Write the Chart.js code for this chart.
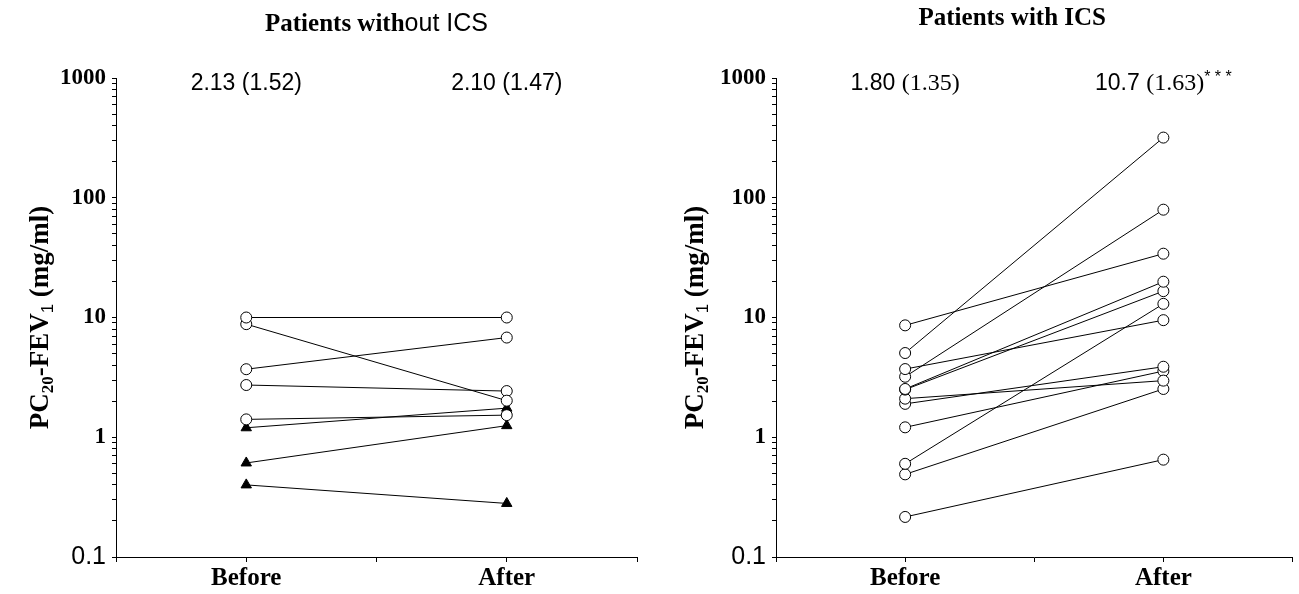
<!DOCTYPE html>
<html>
<head>
<meta charset="utf-8">
<script src="https://cdn.jsdelivr.net/npm/chart.js@4.4.1/dist/chart.umd.min.js"></script>
<style>
  body { margin: 0; background: #fff; }
  #wrap { position: relative; width: 1299px; height: 594px; }
  .painel { position: absolute; top: 0; height: 594px; }
</style>
</head>
<body>
<div id="wrap">
  <div class="painel" style="left:0;width:650px"><canvas id="semICS"></canvas></div>
  <div class="painel" style="left:650px;width:649px"><canvas id="comICS"></canvas></div>
</div>
<script>
// Categorias e posições no eixo x (0..4, como no original)
const categorias = ['Before', 'After'];
const posicoesCategorias = [1, 3];
const yTickLabels = ['0.1', '1', '10', '100', '1000'];

// Pacientes sem ICS (PC20 antes / depois)
const semIcsAntes = [10.0, 8.8, 3.7, 2.73, 1.41, 1.20, 0.61, 0.40];
const semIcsDepois = [10.0, 2.02, 6.8, 2.43, 1.53, 1.75, 1.25, 0.28];
const semIcsMarcador = ['circle', 'circle', 'circle', 'circle', 'circle', 'triangle', 'triangle', 'triangle'];

// Pacientes com ICS
const comIcsAntes = [8.6, 5.05, 3.71, 3.2, 2.53, 2.5, 2.10, 1.90, 1.21, 0.60, 0.49, 0.216];
const comIcsDepois = [34.1, 318, 9.5, 79.5, 19.9, 16.6, 2.97, 3.88, 3.57, 13.0, 2.53, 0.65];

const SERIF = '"Liberation Serif", "Times New Roman", serif';
const SANS = '"Liberation Sans", Arial, sans-serif';

// Escreve um texto feito de partes com fontes diferentes, centrado em cx
function escreverPartes(ctx, partes, cx, y) {
    let total = 0;
    partes.forEach(p => { ctx.font = p.font; total += ctx.measureText(p.t).width; });
    let x = cx - total / 2;
    ctx.textAlign = 'left';
    partes.forEach(p => {
        ctx.font = p.font;
        ctx.fillText(p.t, x, y + (p.dy || 0));
        x += ctx.measureText(p.t).width;
    });
}

const eixoTitulo = [
    { t: 'PC', font: 'bold 27px ' + SERIF },
    { t: '20', font: 'bold 17px ' + SERIF, dy: 5 },
    { t: '-FEV', font: 'bold 27px ' + SERIF },
    { t: '1', font: '17px ' + SANS, dy: 5 },
    { t: ' (mg/ml)', font: 'bold 27px ' + SERIF }
];

const textoPainel = {
    id: 'textoPainel',
    afterDraw(chart, args, opts) {
        const ctx = chart.ctx;
        const area = chart.chartArea;
        const xs = chart.scales.x;
        ctx.save();
        ctx.fillStyle = '#000';
        ctx.textBaseline = 'alphabetic';
        escreverPartes(ctx, opts.titulo, (area.left + area.right) / 2 + opts.tituloDx, opts.tituloY);
        opts.notas.forEach((partes, i) => {
            escreverPartes(ctx, partes, xs.getPixelForValue(posicoesCategorias[i]), opts.notaY);
        });
        ctx.translate(opts.eixoX, (area.top + area.bottom) / 2);
        ctx.rotate(-Math.PI / 2);
        escreverPartes(ctx, eixoTitulo, 0, 0);
        ctx.restore();
    }
};

function montarDatasets(antes, depois, marcadores) {
    return antes.map((v, i) => {
        const m = marcadores ? marcadores[i] : 'circle';
        return {
            data: [{ x: posicoesCategorias[0], y: v }, { x: posicoesCategorias[1], y: depois[i] }],
            showLine: true,
            borderColor: '#000',
            borderWidth: 1,
            pointStyle: m,
            pointRadius: m === 'triangle' ? 6 : 5.5,
            pointBackgroundColor: m === 'triangle' ? '#000' : '#fff',
            pointBorderColor: '#000',
            pointBorderWidth: 1,
            clip: false
        };
    });
}

function criarGrafico(id, datasets, larguraY, padDireita, textos) {
    const ctx = document.getElementById(id).getContext('2d');
    return new Chart(ctx, {
        type: 'scatter',
        data: { datasets: datasets },
        plugins: [textoPainel],
        options: {
            responsive: true,
            maintainAspectRatio: false,
            animation: false,
            layout: { padding: { top: 78, right: padDireita, bottom: 0, left: 0 } },
            plugins: {
                legend: { display: false },
                tooltip: { enabled: false },
                textoPainel: textos
            },
            scales: {
                x: {
                    type: 'linear',
                    min: 0,
                    max: 4,
                    afterFit: s => { s.height = 37; },
                    afterBuildTicks: s => { s.ticks = [0, 1, 2, 3, 4].map(v => ({ value: v })); },
                    border: { display: true, color: '#000', width: 1 },
                    grid: { drawOnChartArea: false, drawTicks: true, tickLength: 5, color: '#000' },
                    ticks: {
                        padding: 2,
                        color: '#000',
                        font: { family: SERIF, size: 25, weight: 'bold' },
                        callback: v => {
                            const i = posicoesCategorias.indexOf(v);
                            return i >= 0 ? categorias[i] : '';
                        }
                    }
                },
                y: {
                    type: 'logarithmic',
                    min: 0.1,
                    max: 1000,
                    afterFit: s => { s.width = larguraY; },
                    afterBuildTicks: s => {
                        const ticks = [];
                        for (let k = -1; k <= 2; k++) {
                            for (let m = 1; m <= 9; m++) ticks.push({ value: Number((m * Math.pow(10, k)).toPrecision(3)) });
                        }
                        ticks.push({ value: 1000 });
                        s.ticks = ticks;
                    },
                    border: { display: true, color: '#000', width: 1 },
                    grid: { drawOnChartArea: false, drawTicks: true, tickLength: 4, color: '#000' },
                    ticks: {
                        autoSkip: false,
                        padding: 6,
                        color: '#000',
                        font: c => (c.tick && c.tick.value === 0.1)
                            ? { family: SANS, size: 25, weight: 'normal' }
                            : { family: SERIF, size: 23, weight: 'bold' },
                        callback: v => {
                            const lbl = yTickLabels.find(l => Number(l) === v);
                            return lbl || '';
                        }
                    }
                }
            }
        }
    });
}

criarGrafico('semICS', montarDatasets(semIcsAntes, semIcsDepois, semIcsMarcador), 116, 13, {
    titulo: [
        { t: 'Patients with', font: 'bold 25px ' + SERIF },
        { t: 'out ICS', font: '25px ' + SANS }
    ],
    tituloDx: 0,
    tituloY: 31,
    notas: [
        [{ t: '2.13 (1.52)', font: '23px ' + SANS }],
        [{ t: '2.10 (1.47)', font: '23px ' + SANS }]
    ],
    notaY: 90,
    eixoX: 48
});

criarGrafico('comICS', montarDatasets(comIcsAntes, comIcsDepois, null), 126, 1, {
    titulo: [
        { t: 'Patients with ICS', font: 'bold 25px ' + SERIF }
    ],
    tituloDx: -22,
    tituloY: 25,
    notas: [
        [{ t: '1.80 ', font: '23px ' + SANS }, { t: '(1.35)', font: '24px ' + SERIF }],
        [{ t: '10.7 ', font: '23px ' + SANS }, { t: '(1.63)', font: '24px ' + SERIF }, { t: '* * *', font: '16px ' + SANS, dy: -8 }]
    ],
    notaY: 90,
    eixoX: 53
});
</script>
</body>
</html>
